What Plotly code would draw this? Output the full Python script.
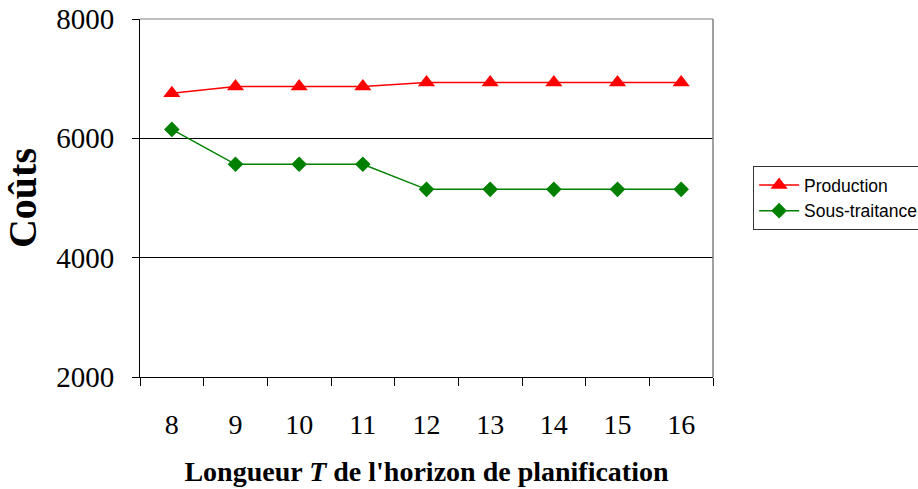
import plotly.graph_objects as go

# Horizon lengths and associated costs
horizons = ["8", "9", "10", "11", "12", "13", "14", "15", "16"]
production = [6755, 6870, 6870, 6870, 6935, 6935, 6935, 6935, 6935]
sous_traitance = [6150, 5565, 5565, 5565, 5145, 5145, 5145, 5145, 5145]
y_ticks = [2000, 4000, 6000, 8000]

serif = "Liberation Serif, Times New Roman, serif"

fig = go.Figure()
fig.add_trace(go.Scatter(
    x=horizons, y=production, name="Production", mode="lines+markers",
    line=dict(color="#ff0000", width=1.5),
    marker=dict(symbol="triangle-up", size=15, color="#ff0000"),
))
fig.add_trace(go.Scatter(
    x=horizons, y=sous_traitance, name="Sous-traitance", mode="lines+markers",
    line=dict(color="#008000", width=1.5),
    marker=dict(symbol="diamond", size=12, color="#008000"),
))

fig.update_layout(
    width=918, height=489,
    margin=dict(l=140, r=205, t=19, b=112, autoexpand=False),
    paper_bgcolor="white", plot_bgcolor="white",
    showlegend=True,
    legend=dict(
        x=1.07, y=0.5, xanchor="left", yanchor="middle",
        bordercolor="#333333", borderwidth=1, bgcolor="white",
        font=dict(family="Liberation Sans, Arial, sans-serif", size=17.5, color="black"),
        tracegroupgap=0, itemwidth=40,
    ),
    xaxis=dict(
        type="category", range=[-0.5, 8.5], automargin=False,
        tickson="boundaries", ticks="outside", ticklen=8, tickcolor="black",
        ticklabelstandoff=22,
        showline=True, linecolor="black", linewidth=1, showgrid=False,
        tickfont=dict(family=serif, size=28, color="black"),
        title=dict(text="<b>Longueur <i>T</i> de l'horizon de planification</b>",
                   font=dict(family=serif, size=28, color="black"), standoff=22),
    ),
    yaxis=dict(
        range=[2000, 8000], tickvals=y_ticks, automargin=False,
        ticks="outside", ticklen=7, tickcolor="black",
        ticklabelstandoff=12,
        showline=True, linecolor="black", linewidth=1,
        showgrid=True, gridcolor="black", gridwidth=1,
        tickfont=dict(family=serif, size=29, color="black"),
        title=dict(text="<b>Coûts</b>", font=dict(family=serif, size=40, color="black"),
                   standoff=10),
    ),
)

# Plot-area frame on the top and right sides
fig.add_shape(type="line", xref="paper", yref="paper", x0=0, x1=1, y0=1, y1=1,
              line=dict(color="#808080", width=1))
fig.add_shape(type="line", xref="paper", yref="paper", x0=1, x1=1, y0=0, y1=1,
              line=dict(color="#808080", width=1.5))

fig.write_html("out.html")
